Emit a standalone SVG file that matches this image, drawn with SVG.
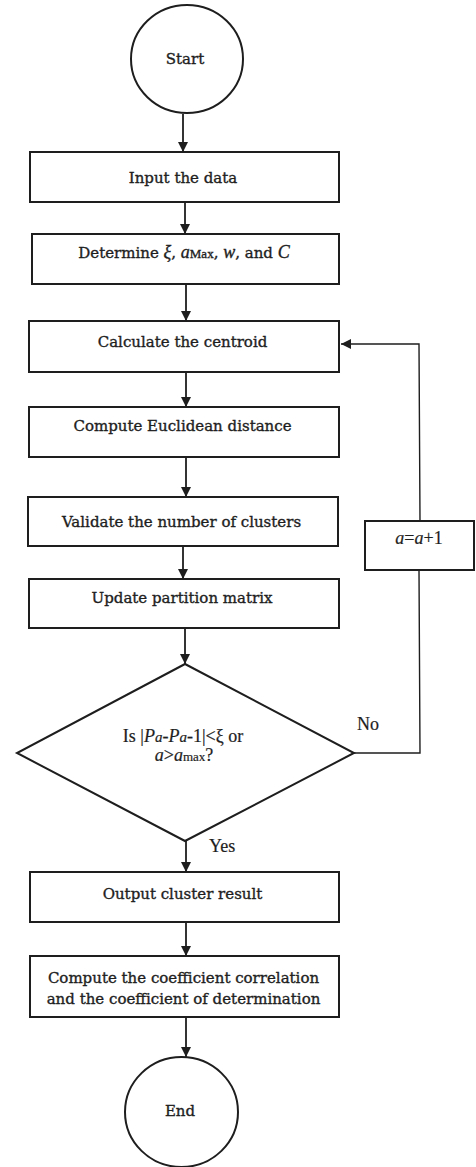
<svg xmlns="http://www.w3.org/2000/svg" width="476" height="1167" viewBox="0 0 476 1167">
<style>
.box{fill:#fff;stroke:#1e1e1e;stroke-width:2}
.t{font-family:"DejaVu Serif","Liberation Serif",serif;font-size:15px;fill:#1e1e1e;stroke:#1e1e1e;stroke-width:0.35;text-anchor:middle}
.m{font-family:"Liberation Serif","Times New Roman",serif;font-style:italic}
.tr{font-family:"Liberation Serif","Times New Roman",serif;font-size:18px;fill:#1e1e1e;stroke:#1e1e1e;stroke-width:0.2}
.c{fill:none;stroke:#1e1e1e;stroke-width:1.8}
.fb{fill:none;stroke:#1e1e1e;stroke-width:1.4}
</style>
<defs>
<marker id="ah" viewBox="0 0 10 10" refX="10" refY="5" markerWidth="10" markerHeight="10" markerUnits="userSpaceOnUse" orient="auto">
<path d="M0,0 L10,5 L0,10 z" fill="#1e1e1e"/>
</marker>
</defs>
<g id="start"><ellipse class="box" cx="187" cy="59" rx="56" ry="54"/><text class="t" x="185" y="64">Start</text></g>
<g id="input"><rect class="box" x="30" y="152" width="309" height="50"/><text class="t" x="183" y="183">Input the data</text></g>
<g id="determine"><rect class="box" x="32" y="234" width="307" height="50"/><text class="t" x="184" y="258">Determine <tspan class="m" font-size="18">ξ</tspan>, <tspan class="m" font-size="18">a</tspan><tspan font-family="Liberation Serif" font-size="13">Max</tspan>, <tspan class="m" font-size="18">w</tspan>, and <tspan class="m" font-size="18">C</tspan></text></g>
<g id="calc"><rect class="box" x="29" y="321" width="310" height="51"/><text class="t" x="182.5" y="347">Calculate the centroid</text></g>
<g id="euclid"><rect class="box" x="29" y="407" width="310" height="50"/><text class="t" x="182.5" y="431">Compute Euclidean distance</text></g>
<g id="validate"><rect class="box" x="28" y="497" width="310" height="49"/><text class="t" x="181.5" y="527">Validate the number of clusters</text></g>
<g id="update"><rect class="box" x="29" y="579" width="310" height="49"/><text class="t" x="182" y="603">Update partition matrix</text></g>
<g id="decision"><polygon class="box" points="185,664 354,753 185,841 17,753"/>
<text class="tr" x="183" y="742" text-anchor="middle">Is |<tspan font-style="italic">P</tspan><tspan font-style="italic" font-size="15">a</tspan>-<tspan font-style="italic">P</tspan><tspan font-style="italic" font-size="15">a</tspan>-1|&lt;ξ or</text>
<text class="tr" x="184" y="761" text-anchor="middle"><tspan font-style="italic">a</tspan>&gt;<tspan font-style="italic">a</tspan><tspan font-size="13">max</tspan>?</text></g>
<g id="incr"><rect class="box" x="365" y="521" width="109" height="49"/><text class="tr" x="419" y="544" text-anchor="middle" font-size="19"><tspan font-style="italic">a</tspan>=<tspan font-style="italic">a</tspan>+1</text></g>
<g id="output"><rect class="box" x="30" y="872" width="309" height="50"/><text class="t" x="182.5" y="899">Output cluster result</text></g>
<g id="coef"><rect class="box" x="30" y="956" width="309" height="61"/><text class="t" x="183.5" y="983">Compute the coefficient correlation</text><text class="t" x="183.5" y="1004">and the coefficient of determination</text></g>
<g id="end"><ellipse class="box" cx="181.5" cy="1112" rx="56.5" ry="55"/><text class="t" x="180" y="1116">End</text></g>
<g id="connectors">
<line class="c" x1="183" y1="114" x2="183" y2="152" marker-end="url(#ah)"/>
<line class="c" x1="185" y1="202" x2="185" y2="234" marker-end="url(#ah)"/>
<line class="c" x1="186" y1="284" x2="186" y2="321" marker-end="url(#ah)"/>
<line class="c" x1="186" y1="372" x2="186" y2="407" marker-end="url(#ah)"/>
<line class="c" x1="186" y1="457" x2="186" y2="497" marker-end="url(#ah)"/>
<line class="c" x1="183" y1="546" x2="183" y2="579" marker-end="url(#ah)"/>
<line class="c" x1="185" y1="628" x2="185" y2="664" marker-end="url(#ah)"/>
<line class="c" x1="186" y1="841" x2="186" y2="872" marker-end="url(#ah)"/>
<line class="c" x1="186" y1="922" x2="186" y2="956" marker-end="url(#ah)"/>
<line class="c" x1="186" y1="1017" x2="186" y2="1057" marker-end="url(#ah)"/>
<polyline class="fb" points="354,753 420,753 419,570"/>
<polyline class="fb" points="420,521 419,344 341,344" marker-end="url(#ah)"/>
<text class="tr" x="357" y="730">No</text>
<text class="tr" x="209" y="852">Yes</text>
</g>
</svg>
